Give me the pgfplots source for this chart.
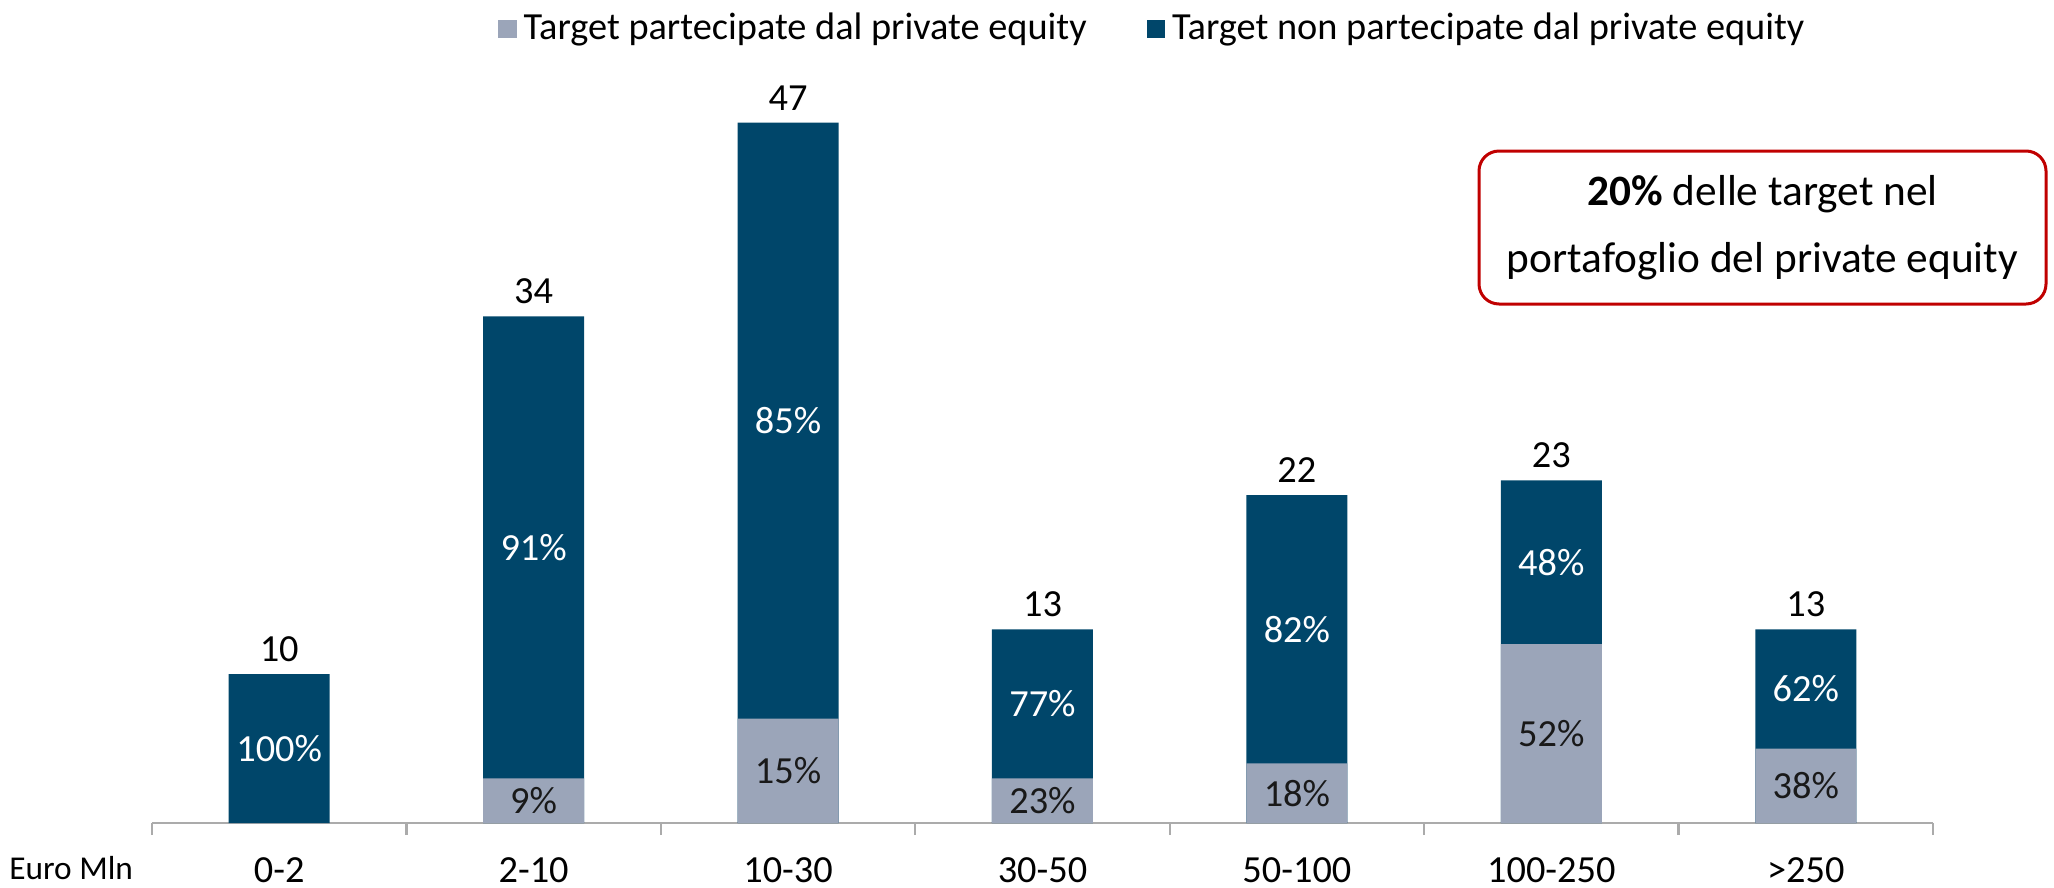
\documentclass[border=0pt]{standalone}
\usepackage{pgfplots}
\pgfplotsset{compat=1.18}
\usepackage{fontspec}
\setmainfont{Carlito}
\definecolor{darkb}{HTML}{00466A}
\definecolor{lightb}{HTML}{9BA5B9}
\definecolor{boxred}{HTML}{C00000}
\definecolor{axisgray}{HTML}{ABABAB}
\begin{document}
\begin{tikzpicture}
\useasboundingbox (-45.6pt,-19.2pt) rectangle (570.6pt,246.9pt);
\begin{axis}[
  scale only axis, width=534.3pt, height=223.5pt,
  xmin=-0.5, xmax=6.5, ymin=0, ymax=50,
  axis y line=none, axis x line*=bottom,
  x axis line style={axisgray, line width=0.7pt, -},
  xtick={0,...,6},
  xticklabels={0-2,2-10,10-30,30-50,50-100,100-250,>250},
  major tick length=0pt,
  minor xtick={-0.5,0.5,...,6.5},
  minor tick length=3.6pt, tick align=outside,
  minor tick style={axisgray, line width=0.7pt},
  xticklabel style={anchor=base, yshift=-17.85pt, font=\fontsize{11.5}{13}\selectfont},
  /pgf/number format/assume math mode=true,
  clip=false,
  legend style={at={(0.194,1.066)}, anchor=west, draw=none, fill=none,
    legend columns=2, font=\fontsize{11.5}{13}\selectfont, inner sep=0pt,
    /tikz/every even column/.append style={column sep=16pt}},
  legend image code/.code={\fill[#1] (0pt,-2.8pt) rectangle (5.6pt,2.8pt);},
]
\addplot[ybar, bar width=30.3pt, bar shift=0pt, fill=darkb, draw=none, forget plot]
  coordinates {(0,10) (1,34) (2,47) (3,13) (4,22) (5,23) (6,13)};
\addplot[ybar, bar width=30.3pt, bar shift=0pt, fill=lightb, draw=none, forget plot]
  coordinates {(0,0) (1,3) (2,7) (3,3) (4,4) (5,12) (6,5)};
% totals
\addplot[draw=none, mark=none, forget plot, point meta=explicit symbolic,
  nodes near coords={\pgfplotspointmeta},
  nodes near coords style={anchor=base, yshift=3.75pt, text=black, font=\fontsize{11.5}{13}\selectfont}]
  coordinates {(0,10)[10] (1,34)[34] (2,47)[47] (3,13)[13] (4,22)[22] (5,23)[23] (6,13)[13]};
% non-PE shares
\addplot[draw=none, mark=none, forget plot, point meta=explicit symbolic,
  nodes near coords={\pgfplotspointmeta\%},
  nodes near coords style={anchor=center, text=white, font=\fontsize{11.5}{13}\selectfont}]
  coordinates {(0,5)[100] (1,18.5)[91] (2,27)[85] (3,8)[77] (4,13)[82] (5,17.5)[48] (6,9)[62]};
% PE shares
\addplot[draw=none, mark=none, forget plot, point meta=explicit symbolic,
  nodes near coords={\pgfplotspointmeta\%},
  nodes near coords style={anchor=center, text=black!90, font=\fontsize{11.5}{13}\selectfont}]
  coordinates {(1,1.5)[9] (2,3.5)[15] (3,1.5)[23] (4,2)[18] (5,6)[52] (6,2.5)[38]};
\addlegendimage{fill=lightb, draw=none}
\addlegendentry{Target partecipate dal private equity}
\addlegendimage{fill=darkb, draw=none}
\addlegendentry{Target non partecipate dal private equity}
\end{axis}
\node[anchor=base east, inner sep=0pt, font=\fontsize{10}{11}\selectfont] at (-5.5pt,-17pt) {Euro Mln};
\node[draw=boxred, line width=0.9pt, rounded corners=6pt, minimum width=170.1pt,
  minimum height=45.9pt, align=center, inner sep=0pt,
  font=\fontsize{13}{20}\selectfont] at (483.15pt,178.65pt)
  {\textbf{20\%} delle target nel\\portafoglio del private equity};
\end{tikzpicture}
\end{document}
